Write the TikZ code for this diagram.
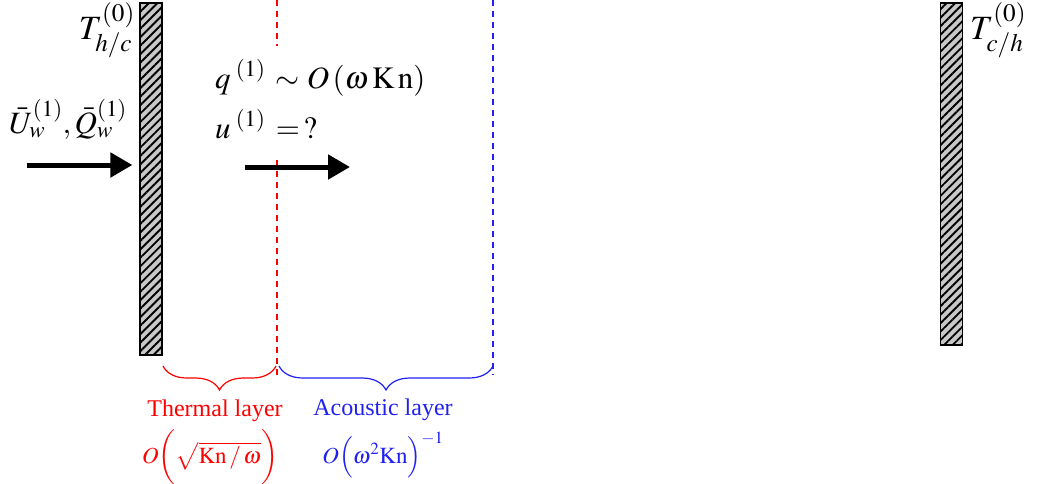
\documentclass[tikz,border=0pt]{standalone}
\usepackage{mathptmx}
\usepackage{fontspec}
\setmainfont{Liberation Serif}
\usepackage{tikz}
\usetikzlibrary{positioning,arrows.meta,decorations.pathreplacing,patterns.meta}
\definecolor{acvermelho}{HTML}{FF0000}
\definecolor{acazul}{HTML}{2020F0}
\definecolor{accinza}{HTML}{C8C8C8}
\tikzset{
  acparede/.style={draw=black, line width=1.2pt, fill=accinza, minimum width=22pt, inner sep=0pt,
                  postaction={pattern={Lines[angle=45, distance=6pt, line width=1.9pt]}, pattern color=black}},
  acseta/.style={-{Triangle[length=22pt, width=24pt]}, line width=5pt, draw=black},
  acrotulo/.style={font=\fontsize{34}{36}\selectfont, inner sep=0pt},
  accamada/.style={font=\fontsize{24}{28}\selectfont, inner sep=0pt, anchor=base},
  aclimite/.style={line width=1.1pt, dash pattern=on 6pt off 5pt},
  acchave/.style={decorate, decoration={brace, mirror, amplitude=24pt}, line width=1.2pt},
}

\begin{document}
\begin{tikzpicture}[x=1pt, y=-1pt]
  \useasboundingbox (0,0) rectangle (1040,483);
  % limites das camadas
  \coordinate (vtopo) at (277,0);
  \coordinate (vbase) at (277,375);
  \coordinate (atopo) at (493,0);
  \coordinate (abase) at (493,375);
  \draw[draw=acvermelho, aclimite] (vtopo) -- (277,46);
  \draw[draw=acvermelho, aclimite] (277,160) -- (vbase);
  \draw[draw=acazul, aclimite] (atopo) -- (abase);
  % chaves
  \draw[acchave, draw=acvermelho] (163,366) -- (276,366) coordinate[midway] (cv);
  \draw[acchave, draw=acazul] (279,366) -- (493,366) coordinate[midway] (ca);
  \node[accamada, text=acvermelho] (tv) at (215,416) {Thermal layer};
  \node[accamada, text=acvermelho, font=\fontsize{23}{26}\selectfont] (ov) at (210,463) {$O\biggl(\sqrt{\mathrm{Kn}\,/\,\omega}\biggr)$};
  \node[accamada, text=acazul] (ta) at (383,415) {Acoustic layer};
  \node[accamada, text=acazul, font=\fontsize{23}{26}\selectfont] (oa) at (383,463) {$O\Bigl(\omega^{2}\mathrm{Kn}\Bigr)^{-1}$};
  % paredes
  \node[acparede, minimum height=352pt] (pesq) at (151,179) {};
  \node[acparede, minimum height=342pt] (pdir) at (951.5,174) {};
  % setas
  \coordinate (s1) at (27,165);
  \coordinate (s2) at (245,167);
  \draw[acseta] (s1) -- ([xshift=-7pt]s1 -| pesq.west);
  \draw[acseta] (s2) -- ++(105,0) coordinate (s2f);
  % rotulos
  \node[acrotulo, anchor=north east] (th) at (135,2) {$T_{h/c}^{(0)}$};
  \node[acrotulo, anchor=north west] (tc) at (970,2) {$T_{c/h}^{(0)}$};
  \node[acrotulo, anchor=base west, font=\fontsize{31}{34}\selectfont] (uq) at (9,133) {$\bar{U}_{w}^{(1)},\bar{Q}_{w}^{(1)}$};
  \node[acrotulo, anchor=base west, font=\fontsize{31}{34}\selectfont] (q1) at (215,88) {$q^{\;(1)}\,\sim O\,(\omega\,\mathrm{K\,n})$};
  \node[acrotulo, anchor=base west, font=\fontsize{31}{34}\selectfont] (u1) at (215,138) {$u^{\;(1)}\,=\,?$};
\end{tikzpicture}
\end{document}
